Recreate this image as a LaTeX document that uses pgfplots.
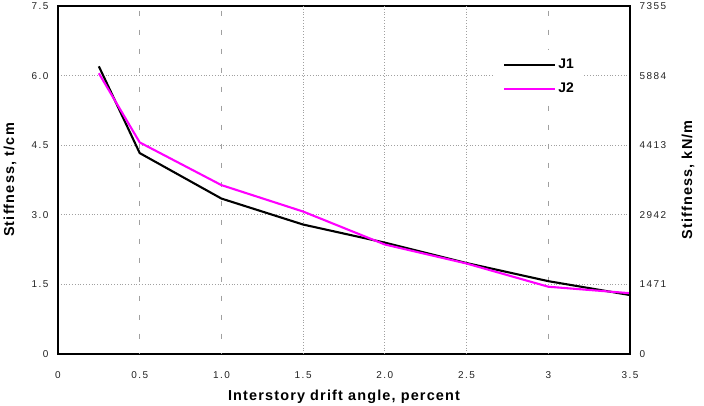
\documentclass[border=0pt]{standalone}
\usepackage{fontspec}
\setmainfont{Liberation Sans}
\newfontfamily\tickfont[LetterSpace=15]{Liberation Sans}
\newfontfamily\labfont[LetterSpace=8]{Liberation Sans}
\usepackage{pgfplots}
\pgfplotsset{compat=1.18}
\definecolor{jtwo}{HTML}{FF00FF}
\definecolor{gridc}{HTML}{A0A0A0}
\definecolor{tickc}{HTML}{222222}
\begin{document}
\begin{tikzpicture}
\begin{axis}[
  name=main,
  at={(0,0)}, anchor=south west,
  scale only axis, width=572bp, height=348bp,
  xmin=0, xmax=3.5, ymin=0, ymax=7.5,
  axis line style={line width=1.7bp, black},
  xtick={0,0.5,1,1.5,2,2.5,3,3.5},
  xticklabels={0,0.5,1.0,1.5,2.0,2.5,3,3.5},
  ytick={0,1.5,3,4.5,6,7.5},
  yticklabels={0,1.5,3.0,4.5,6.0,7.5},
  ytick pos=left, xtick pos=bottom,
  major tick length=0pt,
  xticklabel style={font=\tickfont\fontsize{10}{11}\selectfont, text=tickc, anchor=center, yshift=-21bp},
  yticklabel style={font=\tickfont\fontsize{10}{11}\selectfont, text=tickc, anchor=east, xshift=-6bp},
  ymajorgrids,
  major grid style={gridc, line width=0.8bp, dash pattern=on 0.8bp off 2bp},
  xlabel={\labfont\bfseries Interstory drift angle, percent},
  ylabel={\labfont\bfseries Stiffness, t/cm},
  label style={font=\fontsize{14.5}{16}\selectfont},
  xlabel style={at={(axis description cs:0.5,-0.1236)}, anchor=center},
  ylabel style={at={(axis description cs:-0.0839,0.5)}, anchor=center},
  legend style={at={(rel axis cs:0.764,0.874)}, anchor=north west, draw=none, fill=white,
    font=\fontsize{14}{16}\selectfont\bfseries, inner xsep=8bp, inner ysep=7bp,
    row sep=9bp},
  legend cell align=left,
  legend image code/.code={\draw[#1] (0bp,0bp) -- (47bp,0bp); \path (0bp,0bp) -- (51bp,0bp);},
]
\draw[gridc, line width=0.9bp, dash pattern=on 5bp off 14bp] (axis cs:0.5,7.4) -- (axis cs:0.5,0);
\draw[gridc, line width=0.9bp, dash pattern=on 5bp off 14bp] (axis cs:1.0,7.4) -- (axis cs:1.0,0);
\draw[gridc, line width=0.9bp, dash pattern=on 5bp off 14bp] (axis cs:3.0,7.4) -- (axis cs:3.0,0);
\draw[gridc, line width=0.8bp, dash pattern=on 0.8bp off 2bp] (axis cs:1.5,7.5) -- (axis cs:1.5,0);
\draw[gridc, line width=0.8bp, dash pattern=on 0.8bp off 2bp] (axis cs:2.0,7.5) -- (axis cs:2.0,0);
\draw[gridc, line width=0.8bp, dash pattern=on 0.8bp off 2bp] (axis cs:2.5,7.5) -- (axis cs:2.5,0);
\addplot[black, line width=2.1bp] coordinates {
(0.25,6.20) (0.5,4.33) (1.0,3.35) (1.5,2.79) (2.0,2.40) (2.5,1.96) (3.0,1.57) (3.5,1.27)};
\addlegendentry{J1}
\addplot[jtwo, line width=2.1bp] coordinates {
(0.25,6.05) (0.5,4.56) (1.0,3.64) (1.5,3.07) (2.0,2.36) (2.5,1.95) (3.0,1.45) (3.5,1.31)};
\addlegendentry{J2}
\end{axis}
\begin{axis}[
  at={(0,0)}, anchor=south west,
  scale only axis, width=572bp, height=348bp,
  xmin=0, xmax=3.5, ymin=0, ymax=7355,
  hide x axis,
  axis y line*=right,
  y axis line style={line width=1.7bp, black, -},
  ytick={0,1471,2942,4413,5884,7355},
  yticklabels={0,1471,2942,4413,5884,7355},
  major tick length=0pt,
  yticklabel style={font=\tickfont\fontsize{10}{11}\selectfont, text=tickc, anchor=west, xshift=6bp},
  ylabel={\labfont\bfseries Stiffness, kN/m},
  label style={font=\fontsize{14.5}{16}\selectfont},
  ylabel style={at={(axis description cs:1.1014,0.5)}, anchor=center, rotate=0},
]
\end{axis}
\pgfresetboundingbox
\path[use as bounding box] (-58bp,-52bp) rectangle (646bp,354bp);
\end{tikzpicture}
\end{document}
